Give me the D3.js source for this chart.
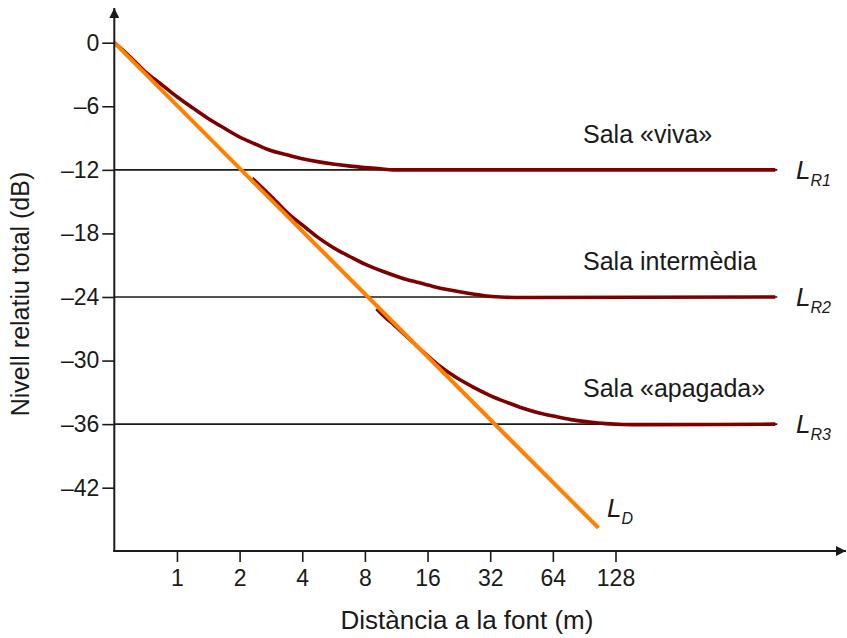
<!DOCTYPE html>
<html>
<head>
<meta charset="utf-8">
<script src="https://cdn.jsdelivr.net/npm/d3@7/dist/d3.min.js"></script>
<style>
  html, body { margin: 0; padding: 0; background: #fff; }
  svg { display: block; font-family: "Liberation Sans", Arial, sans-serif; }
</style>
</head>
<body>
<svg id="chart" width="847" height="638"></svg>
<script>
// Distance ticks (m) and level ticks (dB)
const xTicks = [1, 2, 4, 8, 16, 32, 64, 128];
const yTicks = [0, -6, -12, -18, -24, -30, -36, -42];

// Direct sound: -6 dB per doubling of distance
const directDist = [0.5, 106];
const directLevel = [0, -45.8];

// Reverberant field levels for the three rooms
const roomNames = ["Sala «viva»", "Sala intermèdia", "Sala «apagada»"];
const roomLevels = [-12, -24, -36];
const roomSubs = ["R1", "R2", "R3"];
const fieldEnd = 750;

// Total level vs distance, per room
const liveDist = [0.5, 0.6, 0.7, 0.85, 1, 1.2, 1.4, 1.7, 2, 2.4, 2.8, 3.4, 4, 4.8, 5.6, 6.8, 8, 9.5, 11, 750];
const liveLevel = [0, -1.4, -2.7, -4.0, -5.1, -6.2, -7.1, -8.1, -8.9, -9.6, -10.15, -10.6, -10.95, -11.25, -11.45, -11.65, -11.78, -11.9, -12.0, -12.0];

const midDist = [2.3, 2.6, 3, 3.5, 4, 4.7, 5.6, 6.8, 8, 9.8, 12, 14.2, 17, 20.5, 25, 30, 36, 45, 750];
const midLevel = [-12.8, -13.8, -15.0, -16.3, -17.2, -18.3, -19.3, -20.2, -20.9, -21.6, -22.2, -22.6, -23.0, -23.35, -23.65, -23.88, -24.0, -24.05, -24.0];

const deadDist = [9.1, 10, 11, 12.5, 15.3, 18, 22, 26.5, 32, 38, 46, 55, 67, 80, 96, 115, 139, 170, 750];
const deadLevel = [-25.1, -25.9, -26.6, -27.6, -29.2, -30.4, -31.6, -32.5, -33.3, -33.9, -34.5, -34.95, -35.3, -35.6, -35.8, -35.95, -36.03, -36.05, -36.0];

const totalCurves = [
  { dist: liveDist, level: liveLevel },
  { dist: midDist, level: midLevel },
  { dist: deadDist, level: deadLevel }
];

const svg = d3.select("#chart");

const x = d3.scaleLog().base(2).domain([0.5, 128]).range([114.3, 615.5]);
const y = d3.scaleLinear().domain([0, -42]).range([42.7, 487.7]);

const axisX0 = 114.3, axisY0 = 551;
const ink = "#1a1a1a";
const darkRed = "#7d0000";
const orange = "#ff8000";

// Arrowhead marker for the axes
svg.append("defs").append("marker")
  .attr("id", "arrow")
  .attr("viewBox", "0 0 10 10")
  .attr("refX", 10).attr("refY", 5)
  .attr("markerWidth", 5).attr("markerHeight", 5)
  .attr("markerUnits", "strokeWidth")
  .attr("orient", "auto")
  .append("path").attr("d", "M0,0 L10,5 L0,10 Z").attr("fill", ink);

// Reference lines for the reverberant levels
svg.append("g").selectAll("line")
  .data(roomLevels)
  .join("line")
  .attr("x1", axisX0).attr("x2", x(fieldEnd) + 2)
  .attr("y1", d => y(d)).attr("y2", d => y(d))
  .attr("stroke", ink).attr("stroke-width", 1.6);

// Total level curves
const line = d3.line()
  .x(d => x(d[0]))
  .y(d => y(d[1]))
  .curve(d3.curveMonotoneX);

svg.append("g").selectAll("path")
  .data(totalCurves)
  .join("path")
  .attr("d", c => line(c.dist.map((d, i) => [d, c.level[i]])))
  .attr("fill", "none")
  .attr("stroke", darkRed)
  .attr("stroke-width", 3.6);

// Direct sound line
svg.append("path")
  .attr("d", d3.line().x(d => x(d[0])).y(d => y(d[1]))(directDist.map((d, i) => [d, directLevel[i]])))
  .attr("fill", "none")
  .attr("stroke", orange)
  .attr("stroke-width", 4);

// Axes
const yAxis = d3.axisLeft(y).tickValues(yTicks)
  .tickFormat(d => d === 0 ? "0" : "–" + Math.abs(d))
  .tickSize(12).tickPadding(3);
const gy = svg.append("g").attr("transform", `translate(${axisX0},0)`).call(yAxis);
gy.select(".domain").remove();
gy.selectAll(".tick line").attr("stroke", ink).attr("stroke-width", 1.6);
gy.selectAll(".tick text").attr("fill", ink).style("font-size", "23px")
  .style("font-family", "'Liberation Sans', Arial, sans-serif");

const xAxis = d3.axisBottom(x).tickValues(xTicks)
  .tickFormat(d3.format("d"))
  .tickSize(11).tickPadding(8);
const gx = svg.append("g").attr("transform", `translate(0,${axisY0})`).call(xAxis);
gx.select(".domain").remove();
gx.selectAll(".tick line").attr("stroke", ink).attr("stroke-width", 1.6);
gx.selectAll(".tick text").attr("fill", ink).style("font-size", "23px")
  .style("font-family", "'Liberation Sans', Arial, sans-serif");

// Axis lines with arrows
svg.append("line")
  .attr("x1", axisX0).attr("x2", axisX0).attr("y1", axisY0 + 1).attr("y2", 8)
  .attr("stroke", ink).attr("stroke-width", 2).attr("marker-end", "url(#arrow)");
svg.append("line")
  .attr("x1", axisX0 - 1).attr("x2", 846).attr("y1", axisY0).attr("y2", axisY0)
  .attr("stroke", ink).attr("stroke-width", 2).attr("marker-end", "url(#arrow)");

// Axis titles
svg.append("text")
  .attr("transform", "translate(29,294) rotate(-90)")
  .attr("text-anchor", "middle")
  .attr("fill", ink).style("font-size", "25px")
  .text("Nivell relatiu total (dB)");
svg.append("text")
  .attr("x", 467).attr("y", 629)
  .attr("text-anchor", "middle")
  .attr("fill", ink).style("font-size", "26px")
  .text("Distància a la font (m)");

// Room labels
svg.append("g").selectAll("text")
  .data(roomNames)
  .join("text")
  .attr("x", 583)
  .attr("y", (d, i) => y(roomLevels[i]) - 27)
  .attr("fill", ink).style("font-size", "25px")
  .text(d => d);

// L_R labels
const lr = svg.append("g").selectAll("text")
  .data(roomLevels)
  .join("text")
  .attr("x", 796)
  .attr("y", d => y(d) + 9)
  .attr("fill", ink)
  .style("font-style", "italic")
  .style("font-size", "26px");
lr.append("tspan").text("L");
lr.append("tspan").attr("dy", 7).style("font-size", "16px").text((d, i) => roomSubs[i]);

// L_D label
const ld = svg.append("text")
  .attr("x", 607).attr("y", y(directLevel[1]) - 11)
  .attr("fill", ink)
  .style("font-style", "italic")
  .style("font-size", "26px");
ld.append("tspan").text("L");
ld.append("tspan").attr("dy", 7).style("font-size", "16px").text("D");
</script>
</body>
</html>
